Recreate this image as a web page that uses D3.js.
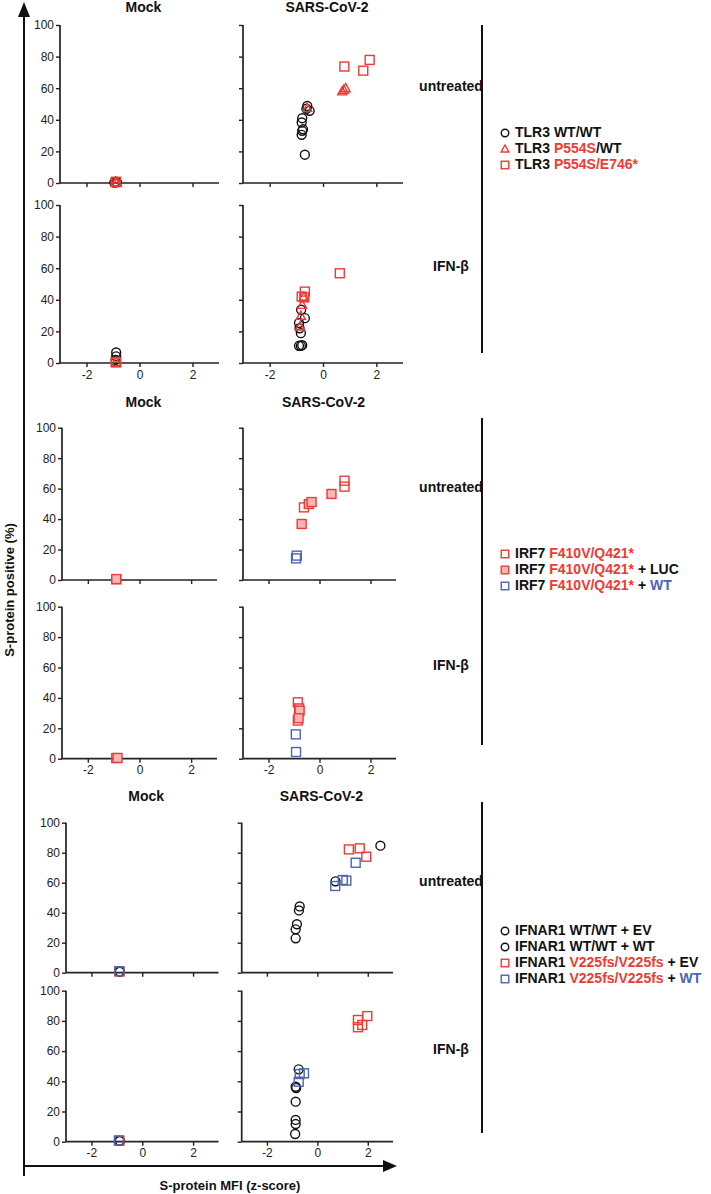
<!DOCTYPE html>
<html><head><meta charset="utf-8">
<script src="https://cdn.jsdelivr.net/npm/d3@7/dist/d3.min.js"></script>
<style>body{margin:0;background:#fff;} text{font-family:Helvetica,Arial,"Liberation Sans",sans-serif;}</style>
</head><body>
<svg id="c" width="711" height="1194"></svg>
<script>
// ---------- data ----------
const xTicks = [-2, 0, 2];
const yTicks = [0, 20, 40, 60, 80, 100];
const colTitles = ["Mock", "SARS-CoV-2"];
const rowLabels = ["untreated", "IFN-β"];

// Row 1: TLR3
const tlr3WT_mockUnt = [[-0.9,0.8],[-0.85,0.5],[-0.95,0.3]];
const tlr3WT_sarsUnt = [[-0.59,48.8],[-0.5,45.7],[-0.62,47],[-0.78,41],[-0.8,38.3],[-0.75,34],[-0.78,33],[-0.8,30.5],[-0.68,17.9]];
const tlr3WT_mockIfn = [[-0.88,6.7],[-0.88,4.2],[-0.9,2]];
const tlr3WT_sarsIfn = [[-0.82,33.7],[-0.68,28.4],[-0.9,25.3],[-0.88,22],[-0.83,18.9],[-0.9,10.9],[-0.83,10.9],[-0.78,11.3]];
const tlr3Het_mockUnt = [[-0.9,0.6],[-0.85,0.4]];
const tlr3Het_sarsUnt = [[-0.59,47.4],[0.72,58],[0.78,59],[0.85,60]];
const tlr3Het_mockIfn = [[-0.88,0.5]];
const tlr3Het_sarsIfn = [[-0.72,42],[-0.78,36.8],[-0.83,29.9],[-0.86,23.1]];
const tlr3CH_mockUnt = [[-0.9,0.5],[-0.88,0.8]];
const tlr3CH_sarsUnt = [[0.8,73.7],[1.51,71.1],[1.75,77.9]];
const tlr3CH_mockIfn = [[-0.88,0.4],[-0.9,0.6]];
const tlr3CH_sarsIfn = [[0.63,56.8],[-0.68,45.2],[-0.8,42],[-0.7,41.5]];

// Row 2: IRF7
const irf7_mockUnt = [[-0.9,0.5]];
const irf7_sarsUnt = [[0.98,65.2],[0.98,61.3],[-0.61,47.7]];
const irf7_mockIfn = [[-0.9,0.4]];
const irf7_sarsIfn = [[-0.85,37.1],[-0.85,25.1]];
const irf7Luc_mockUnt = [[-0.9,0.6]];
const irf7Luc_sarsUnt = [[0.47,56.5],[-0.42,49.9],[-0.31,51.2],[-0.7,36.8]];
const irf7Luc_mockIfn = [[-0.85,0.5]];
const irf7Luc_sarsIfn = [[-0.8,33.1],[-0.78,31.6],[-0.82,26.6]];
const irf7WT_mockUnt = [];
const irf7WT_sarsUnt = [[-0.89,16],[-0.92,14.2]];
const irf7WT_mockIfn = [];
const irf7WT_sarsIfn = [[-0.93,16],[-0.92,4.4]];

// Row 3: IFNAR1
const ifnarWTEV_mockUnt = [[-0.9,0.8]];
const ifnarWTEV_sarsUnt = [[2.5,84.7],[-0.7,44.2],[-0.81,32.3],[-0.86,22.9]];
const ifnarWTEV_mockIfn = [[-0.9,0.6]];
const ifnarWTEV_sarsIfn = [[-0.74,47.9],[-0.86,36.4],[-0.86,26.5],[-0.88,5.1]];
const ifnarWTWT_mockUnt = [[-0.88,0.7]];
const ifnarWTWT_sarsUnt = [[0.72,60.9],[-0.73,41.5],[-0.86,28.9]];
const ifnarWTWT_mockIfn = [[-0.88,0.5]];
const ifnarWTWT_sarsIfn = [[-0.84,35.5],[-0.86,14.4],[-0.86,11.7]];
const ifnarMutEV_mockUnt = [[-0.9,0.9]];
const ifnarMutEV_sarsUnt = [[1.25,82.2],[1.68,82.9],[1.94,77.3]];
const ifnarMutEV_mockIfn = [[-0.9,0.7]];
const ifnarMutEV_sarsIfn = [[1.98,83.2],[1.61,80.6],[1.78,77.3],[1.61,75.8]];
const ifnarMutWT_mockUnt = [[-0.9,1.0]];
const ifnarMutWT_sarsUnt = [[1.52,73.3],[0.71,57.8],[1.01,61.8],[1.15,61.4]];
const ifnarMutWT_mockIfn = [[-0.92,0.8]];
const ifnarMutWT_sarsIfn = [[-0.53,45.3],[-0.7,44.8],[-0.74,39.7]];

// ---------- styles ----------
const RED = "#EE3A34", BLUE = "#4A66B3", BLACK = "#111", PINK = "#F6B7B5";
const styles = {
  circle: {shape: "circle", stroke: BLACK, fill: "none"},
  tri:    {shape: "tri", stroke: RED, fill: "none"},
  sqRed:  {shape: "sq", stroke: RED, fill: "none"},
  sqPink: {shape: "sq", stroke: RED, fill: PINK},
  sqBlue: {shape: "sq", stroke: BLUE, fill: "none"}
};

const rows = [
  { mockX:[60,219], sarsX:[243,403], yUnt:[183,25], yIfn:[363,205], titleY:12, bar:[25,353],
    series: [
      {st:"circle", d:[tlr3WT_mockUnt,tlr3WT_sarsUnt,tlr3WT_mockIfn,tlr3WT_sarsIfn]},
      {st:"tri", d:[tlr3Het_mockUnt,tlr3Het_sarsUnt,tlr3Het_mockIfn,tlr3Het_sarsIfn]},
      {st:"sqRed", d:[tlr3CH_mockUnt,tlr3CH_sarsUnt,tlr3CH_mockIfn,tlr3CH_sarsIfn]}
    ],
    legendY:133,
    legend: [
      {st:"circle", parts:[["TLR3 WT/WT",BLACK]]},
      {st:"tri", parts:[["TLR3 ",BLACK],["P554S",RED],["/WT",BLACK]]},
      {st:"sqRed", parts:[["TLR3 ",BLACK],["P554S/E746*",RED]]}
    ]},
  { mockX:[62,217], sarsX:[243,396], yUnt:[580,427.7], yIfn:[758.7,606.7], titleY:407, bar:[418,745],
    series: [
      {st:"sqRed", d:[irf7_mockUnt,irf7_sarsUnt,irf7_mockIfn,irf7_sarsIfn]},
      {st:"sqPink", d:[irf7Luc_mockUnt,irf7Luc_sarsUnt,irf7Luc_mockIfn,irf7Luc_sarsIfn]},
      {st:"sqBlue", d:[irf7WT_mockUnt,irf7WT_sarsUnt,irf7WT_mockIfn,irf7WT_sarsIfn]}
    ],
    legendY:554,
    legend: [
      {st:"sqRed", parts:[["IRF7 ",BLACK],["F410V/Q421*",RED]]},
      {st:"sqPink", parts:[["IRF7 ",BLACK],["F410V/Q421*",RED],[" + LUC",BLACK]]},
      {st:"sqBlue", parts:[["IRF7 ",BLACK],["F410V/Q421*",RED],[" + ",BLACK],["WT",BLUE]]}
    ]},
  { mockX:[66,218.5], sarsX:[241.7,393], yUnt:[972.7,822.7], yIfn:[1141.7,990.7], titleY:801, bar:[802,1133],
    series: [
      {st:"circle", d:[ifnarWTEV_mockUnt,ifnarWTEV_sarsUnt,ifnarWTEV_mockIfn,ifnarWTEV_sarsIfn]},
      {st:"circle", d:[ifnarWTWT_mockUnt,ifnarWTWT_sarsUnt,ifnarWTWT_mockIfn,ifnarWTWT_sarsIfn]},
      {st:"sqRed", d:[ifnarMutEV_mockUnt,ifnarMutEV_sarsUnt,ifnarMutEV_mockIfn,ifnarMutEV_sarsIfn]},
      {st:"sqBlue", d:[ifnarMutWT_mockUnt,ifnarMutWT_sarsUnt,ifnarMutWT_mockIfn,ifnarMutWT_sarsIfn]}
    ],
    legendY:931,
    legend: [
      {st:"circle", parts:[["IFNAR1 WT/WT + EV",BLACK]]},
      {st:"circle", parts:[["IFNAR1 WT/WT + WT",BLACK]]},
      {st:"sqRed", parts:[["IFNAR1 ",BLACK],["V225fs/V225fs",RED],[" + EV",BLACK]]},
      {st:"sqBlue", parts:[["IFNAR1 ",BLACK],["V225fs/V225fs",RED],[" + ",BLACK],["WT",BLUE]]}
    ]}
];

const svg = d3.select("#c");

function marker(g, st, x, y, size) {
  const s = styles[st];
  const sw = 1.4;
  if (s.shape === "circle") {
    g.append("circle").attr("cx", x).attr("cy", y).attr("r", size*0.47)
      .attr("fill", s.fill).attr("stroke", s.stroke).attr("stroke-width", sw);
  } else if (s.shape === "sq") {
    const h = size*0.47;
    g.append("rect").attr("x", x-h).attr("y", y-h).attr("width", 2*h).attr("height", 2*h)
      .attr("fill", s.fill).attr("stroke", s.stroke).attr("stroke-width", sw);
  } else {
    const h = size*0.5;
    g.append("path").attr("d", `M${x},${y-h}L${x+h*0.95},${y+h*0.75}L${x-h*0.95},${y+h*0.75}Z`)
      .attr("fill", s.fill).attr("stroke", s.stroke).attr("stroke-width", sw);
  }
}

function panel(xr, yr, showYLabels, showXLabels, data, seriesList) {
  const x = d3.scaleLinear().domain([-3, 3]).range(xr);
  const y = d3.scaleLinear().domain([0, 100]).range(yr);
  const g = svg.append("g");
  const yAx = d3.axisLeft(y).tickValues(yTicks).tickSize(4).tickPadding(2)
    .tickFormat(showYLabels ? (d => String(d)) : "");
  const ga = g.append("g").attr("transform", `translate(${xr[0]},0)`).call(yAx);
  const xAx = d3.axisBottom(x).tickValues(xTicks).tickSize(4).tickPadding(3)
    .tickFormat(showXLabels ? (d => String(d)) : "");
  const gb = g.append("g").attr("transform", `translate(0,${yr[0]})`).call(xAx);
  [ga, gb].forEach(a => {
    a.select(".domain").attr("stroke", "#222").attr("stroke-width", 1.7)
      .attr("d", a === ga ? `M0,${yr[0]}V${yr[1]}` : `M${xr[0]},0H${xr[1]}`);
    a.selectAll(".tick line").attr("stroke", "#222").attr("stroke-width", 1.4);
    a.selectAll(".tick text").attr("font-size", 12).attr("fill", "#222")
      .style("font-family", "Helvetica, Arial, 'Liberation Sans', sans-serif");
  });
  const pg = g.append("g");
  data.forEach((pts, i) => {
    pts.forEach(p => marker(pg, seriesList[i], x(p[0]), y(p[1]), 9.5));
  });
}

rows.forEach(r => {
  const sts = r.series.map(s => s.st);
  panel(r.mockX, r.yUnt, true, false, r.series.map(s => s.d[0]), sts);
  panel(r.sarsX, r.yUnt, false, false, r.series.map(s => s.d[1]), sts);
  panel(r.mockX, r.yIfn, true, true, r.series.map(s => s.d[2]), sts);
  panel(r.sarsX, r.yIfn, false, true, r.series.map(s => s.d[3]), sts);
  [r.mockX, r.sarsX].forEach((xr, i) => {
    svg.append("text").attr("x", (xr[0]+xr[1])/2 + 4).attr("y", r.titleY)
      .attr("text-anchor", "middle").attr("font-size", 14).attr("font-weight", "bold")
      .attr("fill", "#111").text(colTitles[i]);
  });
  [r.yUnt, r.yIfn].forEach((yr, i) => {
    svg.append("text").attr("x", 451).attr("y", yr[1] + (yr[0]-yr[1])*0.395)
      .attr("text-anchor", "middle").attr("dominant-baseline", "middle")
      .attr("font-size", 14).attr("font-weight", "bold").attr("fill", "#111").text(rowLabels[i]);
  });
  svg.append("line").attr("x1", 482).attr("x2", 482).attr("y1", r.bar[0]).attr("y2", r.bar[1])
    .attr("stroke", "#111").attr("stroke-width", 2);
  r.legend.forEach((L, i) => {
    const yy = r.legendY + i*16;
    const lg = svg.append("g");
    marker(lg, L.st, 505, yy, 8);
    const t = svg.append("text").attr("x", 515).attr("y", yy).attr("dominant-baseline", "middle")
      .attr("font-size", 14).attr("font-weight", "bold");
    L.parts.forEach(p => t.append("tspan").attr("fill", p[1]).text(p[0]));
  });
});

// big arrows
svg.append("line").attr("x1", 24).attr("x2", 24).attr("y1", 1176).attr("y2", 14)
  .attr("stroke", "#111").attr("stroke-width", 2);
svg.append("path").attr("d", "M24,2L30,17L18,17Z").attr("fill", "#111");
svg.append("line").attr("x1", 24).attr("x2", 386).attr("y1", 1166).attr("y2", 1166)
  .attr("stroke", "#111").attr("stroke-width", 2);
svg.append("path").attr("d", "M397,1166L383,1160L383,1172Z").attr("fill", "#111");
svg.append("text").attr("transform", "translate(14,590) rotate(-90)").attr("text-anchor", "middle")
  .attr("font-size", 13).attr("font-weight", "bold").attr("fill", "#111").text("S-protein positive (%)");
svg.append("text").attr("x", 230).attr("y", 1190).attr("text-anchor", "middle")
  .attr("font-size", 13).attr("font-weight", "bold").attr("fill", "#111").text("S-protein MFI (z-score)");
</script>
</body></html>
